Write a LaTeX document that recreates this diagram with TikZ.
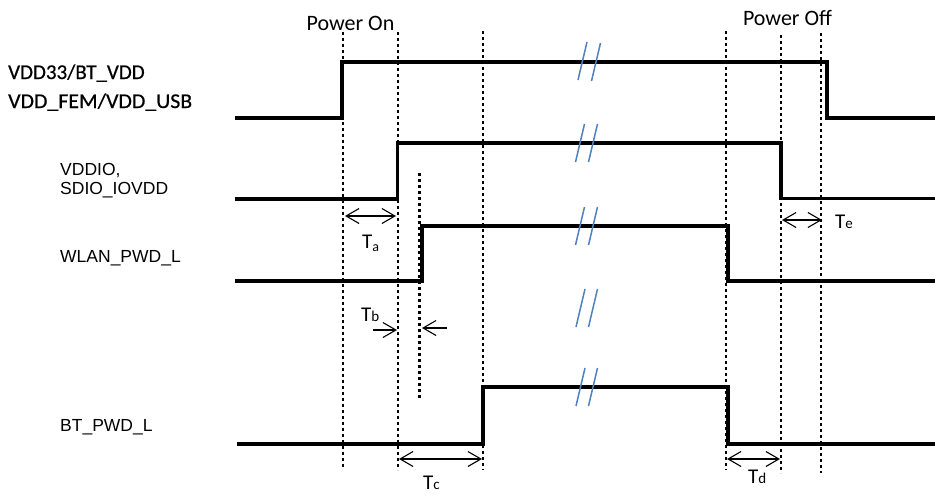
\documentclass[tikz,border=0pt]{standalone}
\usepackage{fontspec}
\setmainfont{Carlito}
\newfontfamily\arialf{Liberation Sans}
\newfontfamily\boldishf[FakeBold=0.6]{Carlito}
\usetikzlibrary{arrows.meta}
\definecolor{brkblue}{RGB}{79,129,189}
\begin{document}
\begin{tikzpicture}[x=1pt,y=-1pt,
  sig/.style={line width=3.2pt, line join=miter},
  dotl/.style={line width=2.9pt, dash pattern=on 3pt off 3pt},
  brk/.style={draw=brkblue, line width=1.5pt},
  dimarr/.style={line width=1.1pt, {Straight Barb[length=13pt,width=15pt,line width=1.1pt]}-{Straight Barb[length=13pt,width=15pt,line width=1.1pt]}},
  onearr/.style={line width=1.1pt, -{Straight Barb[length=13pt,width=15pt,line width=1.1pt]}},
  biglbl/.style={font=\boldishf\fontsize{21}{24}\selectfont, inner sep=0pt, anchor=base west},
  smlbl/.style={font=\arialf\fontsize{17.5}{20}\selectfont, inner sep=0pt, anchor=base west},
  tlbl/.style={font=\fontsize{21}{24}\selectfont, inner sep=0pt, anchor=base west},
  hdr/.style={font=\fontsize{22}{26}\selectfont, inner sep=0pt, anchor=base}
]
\useasboundingbox (0,0) rectangle (935,496);

% vertical dotted guide lines
\coordinate (v1t) at (343,32);  \coordinate (v1b) at (343,467);
\coordinate (v2t) at (398,32);  \coordinate (v2b) at (398,470);
\coordinate (v3t) at (419.5,173); \coordinate (v3b) at (419.5,400);
\coordinate (v4t) at (483,31);  \coordinate (v4b) at (483,470);
\coordinate (v5t) at (726,31);  \coordinate (v5b) at (726,470);
\coordinate (v6t) at (781,35);  \coordinate (v6b) at (781,473);
\coordinate (v7t) at (821,33);  \coordinate (v7b) at (821,473);
\foreach \i in {1,...,7} \draw[dotl] (v\i t) -- (v\i b);

% signals
\draw[sig] (235,118) -- (342,118) -- (342,62) -- (827,62) -- (827,118) -- (935,118);
\draw[sig] (235,199) -- (397.5,199) -- (397.5,143) -- (781,143) -- (781,198.5) -- (935,198.5);
\draw[sig] (235,281) -- (422,281) -- (422,226) -- (728,226) -- (728,281) -- (935,281);
\draw[sig] (237,444) -- (483,444) -- (483,387) -- (728,387) -- (728,444) -- (935,444);

% break marks
\foreach \cx/\cy in {582.5/61, 596/62, 580/143, 593/143, 580/226, 593/226, 580.5/308, 593/308, 580.5/387, 593/387}
  \draw[brk] (\cx-4.5,\cy+19) -- (\cx+4.5,\cy-19);

% headers
\node[hdr] (pon) at (350.5,30) {Power On};
\node[hdr] (poff) at (787.5,25) {Power Off};

% signal labels
\node[biglbl] (l1) at (8,79) {VDD33/BT\_VDD};
\node[biglbl, xscale=1.04] (l2) at (8,108) {VDD\_FEM/VDD\_USB};
\node[smlbl] (l3) at (60,175) {VDDIO,};
\node[smlbl] (l4) at (60,194) {SDIO\_IOVDD};
\node[smlbl] (l5) at (60,262) {WLAN\_PWD\_L};
\node[smlbl] (l6) at (60,431) {BT\_PWD\_L};

% timing arrows
\coordinate (ta1) at (345,216); \coordinate (ta2) at (396,216);
\draw[dimarr] (ta1) -- (ta2);
\coordinate (te1) at (782,220); \coordinate (te2) at (822,220);
\draw[dimarr] (te1) -- (te2);
\coordinate (tc1) at (399,459); \coordinate (tc2) at (482,459);
\draw[dimarr] (tc1) -- (tc2);
\coordinate (td1) at (727,459); \coordinate (td2) at (780,459);
\draw[dimarr] (td1) -- (td2);
\coordinate (tb1) at (373,330); \coordinate (tb2) at (397,330);
\draw[onearr] (tb1) -- (tb2);
\coordinate (tb3) at (447,328); \coordinate (tb4) at (422,328);
\draw[onearr] (tb3) -- (tb4);

% timing labels
\node[tlbl] (Ta) at (362,248) {T\raisebox{-3pt}{\fontsize{14}{14}\selectfont a}};
\node[tlbl] (Tb) at (361,321) {T{\fontsize{15}{15}\selectfont b}};
\node[tlbl] (Tc) at (423,489) {T{\fontsize{15}{15}\selectfont c}};
\node[tlbl] (Td) at (748,483) {T{\fontsize{15}{15}\selectfont d}};
\node[tlbl] (Te) at (835,228) {T{\fontsize{15}{15}\selectfont e}};
\end{tikzpicture}
\end{document}
